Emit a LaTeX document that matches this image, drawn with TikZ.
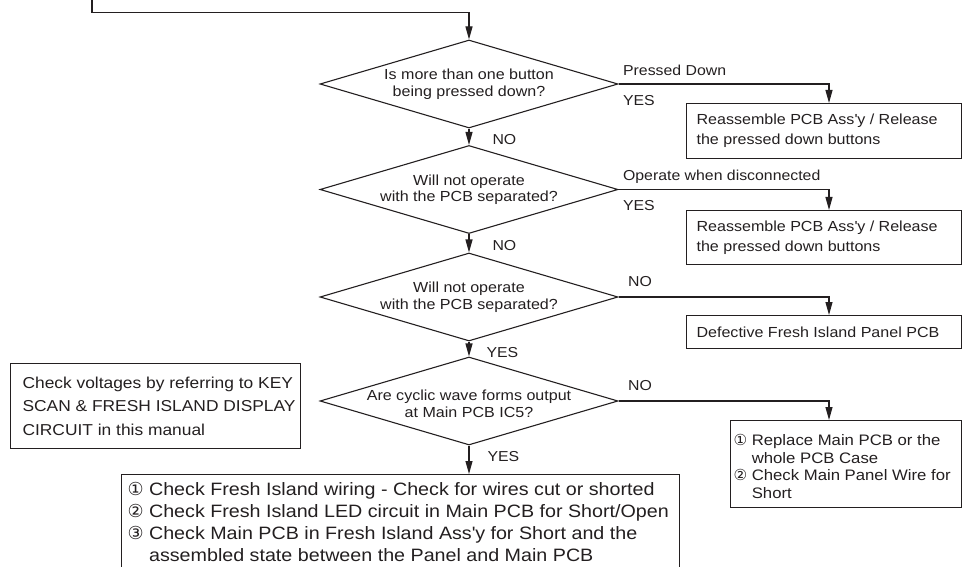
\documentclass[tikz,border=0pt]{standalone}
\usepackage{fontspec}
\setmainfont{Liberation Sans}[FakeStretch=1.1]
\newfontfamily\circfont{DejaVu Sans}
\usetikzlibrary{arrows.meta, shapes.geometric}
\definecolor{ink}{HTML}{231F20}
\newcommand{\fsz}[2]{\fontsize{#1}{#2}\selectfont}

\begin{document}
\begin{tikzpicture}[x=1pt, y=-1pt, color=ink, line width=1.1pt,
		>={Triangle[length=13pt,width=7pt]},   % Pfeilspitzen
		decision/.style={diamond, draw, minimum width=298pt, minimum height=88pt, inner sep=0pt},
		remedy/.style={rectangle, draw, anchor=north west, inner sep=0pt},
		txt/.style={inner sep=0pt, align=left},
		lbl/.style={inner sep=0pt, anchor=base west, font=\fsz{14.4}{17}}]
		\useasboundingbox (0,0) rectangle (962,567);
		% Entscheidungen
		\node[decision] (d1) at (469,84) {};
		\node[decision] (d2) at (469,189.5) {};
		\node[decision] (d3) at (469,297) {};
		\node[decision] (d4) at (469,401) {};
		\node[txt, align=center, font=\fsz{14.6}{17}] (q1) at (d1) {Is more than one button\\being pressed down?};
		\node[txt, align=center, font=\fsz{14.6}{16.5}] (q2) at (d2) {Will not operate\\with the PCB separated?};
		\node[txt, align=center, font=\fsz{14.6}{16.5}] (q3) at (d3) {Will not operate\\with the PCB separated?};
		\node[txt, align=center, font=\fsz{14.6}{16.5}] (q4) at ([yshift=-3pt]d4) {Are cyclic wave forms output\\at Main PCB IC5?};
		% Massnahmen
		\node[remedy, minimum width=275pt, minimum height=55pt] (b1) at (686,103) {};
		\node[remedy, minimum width=275pt, minimum height=54pt] (b2) at (686,210) {};
		\node[remedy, minimum width=275pt, minimum height=33pt] (b3) at (686,315) {};
		\node[remedy, minimum width=231pt, minimum height=87pt] (b4) at (730,420) {};
		\node[remedy, minimum width=290pt, minimum height=85pt] (scan) at (10,363) {};
		\node[remedy, minimum width=558pt, minimum height=110pt] (b5) at (121,474) {};
		\node[txt, anchor=west, font=\fsz{14.6}{20}] (b1t) at ([xshift=10pt]b1.west) {Reassemble PCB Ass\textquotesingle y / Release\\the pressed down buttons};
		\node[txt, anchor=west, font=\fsz{14.6}{20}] (b2t) at ([xshift=10pt]b2.west) {Reassemble PCB Ass\textquotesingle y / Release\\the pressed down buttons};
		\node[txt, anchor=west, font=\fsz{14.6}{20}] (b3t) at ([xshift=10pt]b3.west) {Defective Fresh Island Panel PCB};
		\node[txt, anchor=west, font=\fsz{15.2}{17.5}] (b4t) at ([shift={(3,2.5)}]b4.west) {{\circfont ①} Replace Main PCB or the\\
			\hphantom{\circfont ①} whole PCB Case\\
			{\circfont ②} Check Main Panel Wire for\\
			\hphantom{\circfont ②} Short};
		\node[txt, anchor=west, font=\fsz{15.8}{23.5}] (scant) at ([xshift=12pt]scan.west) {Check voltages by referring to KEY\\SCAN \& FRESH ISLAND DISPLAY\\CIRCUIT in this manual};
		\node[txt, anchor=north west, font=\fsz{17.9}{21.8}] (b5t) at ([shift={(6,8)}]b5.north west) {{\circfont ①} Check Fresh Island wiring - Check for wires cut or shorted\\
			{\circfont ②} Check Fresh Island LED circuit in Main PCB for Short/Open\\
			{\circfont ③} Check Main PCB in Fresh Island Ass\textquotesingle y for Short and the\\
			\hphantom{\circfont ③} assembled state between the Panel and Main PCB};
		% Verbindungen
		\coordinate (entry) at (92,-5);
		\coordinate (col) at (829,0);
		\draw[->] (entry) |- ([yshift=27pt]d1.north) -- (d1.north);
		\draw[->] (d1.south) -- (d2.north);
		\draw[->] (d2.south) -- (d3.north);
		\draw[->] (d3.south) -- (d4.north);
		\draw[->] (d4.south) -- (d4.south |- b5.north);
		\draw[->] (d1.east) -| (col |- b1.north);
		\draw[->] (d2.east) -| (col |- b2.north);
		\draw[->] (d3.east) -| (col |- b3.north);
		\draw[->] (d4.east) -| (col |- b4.north);
		% Beschriftung
		\node[lbl] (pd) at ([shift={(4,-8)}]d1.east) {Pressed Down};
		\node[lbl] (y1) at ([shift={(4,21.5)}]d1.east) {YES};
		\node[lbl] (od) at ([shift={(4,-9)}]d2.east) {Operate when disconnected};
		\node[lbl] (y2) at ([shift={(4,21.5)}]d2.east) {YES};
		\node[lbl] (n3) at ([shift={(9,-10.5)}]d3.east) {NO};
		\node[lbl] (n4) at ([shift={(9,-10.5)}]d4.east) {NO};
		\node[lbl] (n1) at ([shift={(23,16)}]d1.south) {NO};
		\node[lbl] (n2) at ([shift={(23,16)}]d2.south) {NO};
		\node[lbl] (y3) at ([shift={(17,16)}]d3.south) {YES};
		\node[lbl] (y4) at ([shift={(18,16)}]d4.south) {YES};
	\end{tikzpicture}
\end{document}
